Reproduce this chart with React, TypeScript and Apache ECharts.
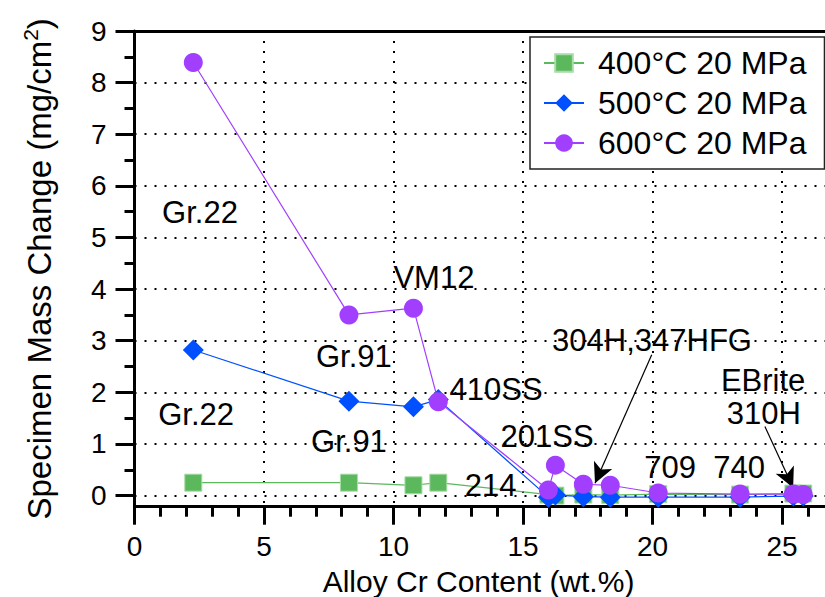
import { useEffect, useRef } from "react";
import * as echarts from "echarts";

// Alloys tested, ordered by chromium content
const alloys = ["Gr.22", "Gr.91", "VM12", "410SS", "214", "201SS", "304H", "347HFG", "709", "740", "EBrite", "310H"];
const crContent = [2.27, 8.28, 10.77, 11.73, 15.98, 16.25, 17.33, 18.37, 20.22, 23.38, 25.44, 25.82];

// Specimen mass change (mg/cm²) per exposure condition
const mass400 = [0.25, 0.25, 0.2, 0.25, 0.02, 0.0, 0.02, 0.01, 0.03, 0.02, 0.04, 0.04];
const mass500 = [2.82, 1.83, 1.72, 1.86, -0.03, 0.01, -0.02, -0.03, -0.03, -0.03, -0.01, -0.01];
const mass600 = [8.39, 3.5, 3.63, 1.82, 0.11, 0.59, 0.22, 0.2, 0.05, 0.03, 0.03, 0.02];

const seriesNames = ["400°C 20 MPa", "500°C 20 MPa", "600°C 20 MPa"];

// Alloy name annotations (anchored in data coordinates)
const noteText = ["Gr.22", "Gr.22", "Gr.91", "Gr.91", "VM12", "410SS", "201SS", "214", "304H,347HFG", "709", "740", "EBrite", "310H"];
const noteX = [2.53, 2.38, 8.47, 8.28, 11.56, 13.96, 15.93, 13.75, 19.98, 20.68, 23.34, 24.27, 24.3];
const noteY = [5.49, 1.58, 2.69, 1.05, 4.22, 2.05, 1.14, 0.2, 3.0, 0.54, 0.54, 2.22, 1.6];

// Leader arrows from labels to points
const arrowFrom = [[19.97, 2.73], [24.34, 1.34]];
const arrowTo = [[17.78, 0.24], [25.43, 0.15]];

const FONT = "Liberation Sans, Arial, Helvetica, sans-serif";
const GREEN = "#5cb85c";
const BLUE = "#0050ff";
const PURPLE = "#a23fff";

const pairs = (ys: number[]) => crContent.map((x, i) => [x, ys[i]]);

export default function App() {
  const ref = useRef<HTMLDivElement>(null);

  useEffect(() => {
    if (!ref.current) return;
    const chart = echarts.init(ref.current, null, { renderer: "svg" });

    const dotted = { color: "#000", width: 2, type: [2, 8] as number[], cap: "butt" as const };
    const thick = { color: "#000", width: 3 };

    // Plot frame spans 0–30 on x; the part past ~26.6 falls outside the canvas.
    const plotLeft = 134.5;
    const plotRight = -86.5;

    chart.setOption({
      animation: false,
      backgroundColor: "#fff",
      textStyle: { fontFamily: FONT },
      grid: [
        // data area: y runs slightly below zero so the x axis sits under the zero line
        { left: plotLeft, right: plotRight, top: 31, bottom: 90.3, outerBoundsMode: "none", containLabel: false },
        // tick scale for the y axis, spanning exactly 0–9
        { left: plotLeft, right: plotRight, top: 31, bottom: 101.4, outerBoundsMode: "none", containLabel: false },
      ],
      legend: {
        data: seriesNames,
        orient: "vertical",
        left: 530,
        top: 37,
        padding: [6, 18, 6, 13],
        itemGap: 0,
        itemWidth: 40,
        itemHeight: 22,
        backgroundColor: "#fff",
        borderColor: "#222",
        borderWidth: 1.5,
        textStyle: { fontSize: 32, color: "#000", fontFamily: FONT, lineHeight: 40, padding: [0, 0, 0, 9] },
      },
      xAxis: [
        {
          gridIndex: 0,
          type: "value",
          position: "bottom",
          min: 0,
          max: 30,
          interval: 5,
          axisLine: { show: true, onZero: false, lineStyle: thick },
          axisTick: { show: true, inside: false, length: 18, lineStyle: thick },
          minorTick: { show: true, splitNumber: 5, length: 10, lineStyle: thick },
          axisLabel: { fontSize: 28, color: "#000", margin: 26, fontFamily: FONT, showMaxLabel: false },
          splitLine: { show: true, lineStyle: dotted },
          name: "Alloy Cr Content (wt.%)",
          nameLocation: "middle",
          nameGap: 51,
          nameTextStyle: { fontSize: 30, lineHeight: 31, color: "#000", fontFamily: FONT, padding: [0, 89, 0, 0] },
        },
        {
          gridIndex: 0,
          type: "value",
          position: "top",
          min: 0,
          max: 30,
          axisLine: { show: true, onZero: false, lineStyle: thick },
          axisTick: { show: false },
          axisLabel: { show: false },
          splitLine: { show: false },
        },
        {
          gridIndex: 1,
          type: "value",
          min: 0,
          max: 30,
          show: false,
        },
      ],
      yAxis: [
        {
          gridIndex: 0,
          type: "value",
          position: "left",
          min: -0.215,
          max: 9,
          axisLine: { show: true, onZero: false, lineStyle: thick },
          axisTick: { show: false },
          axisLabel: { show: false },
          splitLine: { show: false },
          name: "{t|Specimen Mass Change (mg/cm}{s|2}{t|)}",
          nameLocation: "middle",
          nameGap: 79,
          nameTextStyle: {
            color: "#000",
            rich: {
              t: { fontSize: 33, fontFamily: FONT, color: "#000", lineHeight: 36, verticalAlign: "bottom" },
              s: { fontSize: 21, fontFamily: FONT, color: "#000", lineHeight: 36, verticalAlign: "top" },
            },
          },
        },
        {
          gridIndex: 1,
          type: "value",
          position: "left",
          min: 0,
          max: 9,
          interval: 1,
          axisLine: { show: false, onZero: false },
          axisTick: { show: true, inside: false, length: 19, lineStyle: thick },
          minorTick: { show: true, splitNumber: 2, length: 10, lineStyle: thick },
          axisLabel: { fontSize: 28, color: "#000", margin: 28, fontFamily: FONT },
          splitLine: { show: true, lineStyle: dotted },
        },
      ],
      series: [
        {
          name: seriesNames[0],
          type: "line",
          xAxisIndex: 0,
          yAxisIndex: 0,
          data: pairs(mass400),
          symbol: "rect",
          symbolSize: 17,
          itemStyle: { color: GREEN, borderColor: "#a6dca6", borderWidth: 1 },
          lineStyle: { color: GREEN, width: 1.2 },
          z: 3,
        },
        {
          name: seriesNames[1],
          type: "line",
          xAxisIndex: 0,
          yAxisIndex: 0,
          data: pairs(mass500),
          symbol: "diamond",
          symbolSize: 21,
          itemStyle: { color: BLUE },
          lineStyle: { color: BLUE, width: 1.2 },
          z: 4,
        },
        {
          name: seriesNames[2],
          type: "line",
          xAxisIndex: 0,
          yAxisIndex: 0,
          data: pairs(mass600),
          symbol: "circle",
          symbolSize: 19,
          itemStyle: { color: PURPLE },
          lineStyle: { color: PURPLE, width: 1.2 },
          z: 5,
        },
        {
          name: "notes",
          type: "scatter",
          xAxisIndex: 0,
          yAxisIndex: 0,
          silent: true,
          symbolSize: 1,
          itemStyle: { color: "rgba(0,0,0,0)" },
          data: noteText.map((t, i) => ({ name: t, value: [noteX[i], noteY[i]] })),
          label: {
            show: true,
            position: "inside",
            formatter: "{b}",
            fontSize: 31,
            color: "#000",
            opacity: 1,
            textBorderWidth: 0,
            textBorderColor: "transparent",
            fontFamily: FONT,
          },
          markLine: {
            silent: true,
            symbol: ["none", "arrow"],
            symbolSize: [15, 20],
            label: { show: false },
            lineStyle: { color: "#000", width: 1.2, type: "solid" },
            data: arrowFrom.map((f, i) => [{ coord: f }, { coord: arrowTo[i] }]),
          },
          z: 6,
        },
      ],
    });

    return () => chart.dispose();
  }, []);

  return (
    <div
      ref={ref}
      style={{ position: "fixed", left: 0, top: 0, width: 825, height: 597, background: "#fff" }}
    />
  );
}
